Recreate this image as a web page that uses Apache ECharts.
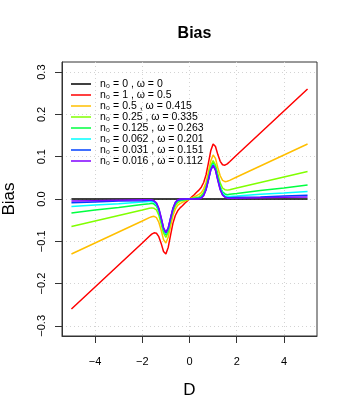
<!DOCTYPE html>
<html>
<head>
<meta charset="utf-8">
<script src="https://cdn.jsdelivr.net/npm/echarts@6/dist/echarts.min.js"></script>
<style>
html,body{margin:0;padding:0;background:#fff;}
#c{width:349px;height:415px;}
</style>
</head>
<body>
<div id="c"></div>
<script>
// ---- data ----
var D = [-5,-4,-3,-2,-1.7,-1.6,-1.5,-1.4,-1.3,-1.2,-1.1,-1,-0.9,-0.8,-0.7,-0.6,-0.5,-0.4,-0.3,-0.2,-0.1,
         0,0.1,0.2,0.3,0.4,0.5,0.6,0.7,0.8,0.9,1,1.1,1.2,1.3,1.4,1.5,1.6,1.7,2,3,4,5];

var seriesNames = [
  "n₀ = 0 , ω = 0",
  "n₀ = 1 , ω = 0.5",
  "n₀ = 0.5 , ω = 0.415",
  "n₀ = 0.25 , ω = 0.335",
  "n₀ = 0.125 , ω = 0.263",
  "n₀ = 0.062 , ω = 0.201",
  "n₀ = 0.031 , ω = 0.151",
  "n₀ = 0.016 , ω = 0.112"
];
var seriesColors = ["#000000","#FF0000","#FFBF00","#80FF00","#00FF40","#00FFFF","#0040FF","#8000FF"];

var biasN0_0 = [0,0,0,0,0,0,0,0,0,0,0,0,0,0,0,0,0,0,0,0,0,
                0,0,0,0,0,0,0,0,0,0,0,0,0,0,0,0,0,0,0,0,0,0];
var biasN0_1 = [-0.260,-0.208,-0.156,-0.104,-0.088,-0.083,-0.080,-0.081,-0.089,-0.105,-0.124,-0.130,-0.114,-0.085,-0.057,-0.039,-0.028,-0.021,-0.016,-0.010,-0.005,
                0,0.005,0.010,0.016,0.021,0.028,0.039,0.057,0.085,0.114,0.130,0.124,0.105,0.089,0.081,0.080,0.083,0.088,0.104,0.156,0.208,0.260];
var biasN0_05 = [-0.130,-0.104,-0.078,-0.052,-0.044,-0.042,-0.041,-0.044,-0.055,-0.074,-0.096,-0.104,-0.090,-0.064,-0.039,-0.024,-0.015,-0.011,-0.008,-0.005,-0.003,
                 0,0.003,0.005,0.008,0.011,0.015,0.024,0.039,0.064,0.090,0.104,0.096,0.074,0.055,0.044,0.041,0.042,0.044,0.052,0.078,0.104,0.130];
var biasN0_025 = [-0.065,-0.052,-0.039,-0.026,-0.022,-0.021,-0.022,-0.026,-0.038,-0.059,-0.081,-0.091,-0.079,-0.053,-0.030,-0.016,-0.009,-0.005,-0.004,-0.003,-0.001,
                  0,0.001,0.003,0.004,0.005,0.009,0.016,0.030,0.053,0.079,0.091,0.081,0.059,0.038,0.026,0.022,0.021,0.022,0.026,0.039,0.052,0.065];
var biasN0_0125 = [-0.033,-0.026,-0.020,-0.013,-0.011,-0.010,-0.012,-0.017,-0.029,-0.051,-0.074,-0.085,-0.073,-0.048,-0.026,-0.012,-0.005,-0.003,-0.002,-0.001,-0.001,
                   0,0.001,0.001,0.002,0.003,0.005,0.012,0.026,0.048,0.073,0.085,0.074,0.051,0.029,0.017,0.012,0.010,0.011,0.013,0.020,0.026,0.033];
var biasN0_0062 = [-0.018,-0.014,-0.011,-0.007,-0.006,-0.006,-0.007,-0.013,-0.026,-0.047,-0.071,-0.082,-0.070,-0.046,-0.023,-0.010,-0.004,-0.001,-0.001,-0.001,0,
                   0,0,0.001,0.001,0.001,0.004,0.010,0.023,0.046,0.070,0.082,0.071,0.047,0.026,0.013,0.007,0.006,0.006,0.007,0.011,0.014,0.018];
var biasN0_0031 = [-0.009,-0.007,-0.005,-0.004,-0.003,-0.003,-0.005,-0.010,-0.023,-0.045,-0.069,-0.080,-0.069,-0.045,-0.022,-0.009,-0.003,-0.001,-0.001,0,0,
                   0,0,0,0.001,0.001,0.003,0.009,0.022,0.045,0.069,0.080,0.069,0.045,0.023,0.010,0.005,0.003,0.003,0.004,0.005,0.007,0.009];
var biasN0_0016 = [-0.005,-0.004,-0.003,-0.002,-0.002,-0.002,-0.004,-0.009,-0.022,-0.044,-0.068,-0.079,-0.068,-0.044,-0.022,-0.008,-0.002,0,0,0,0,
                   0,0,0,0,0,0.002,0.008,0.022,0.044,0.068,0.079,0.068,0.044,0.022,0.009,0.004,0.002,0.002,0.002,0.003,0.004,0.005];

var xTicks = [-4,-2,0,2,4];
var yTicks = [-0.3,-0.2,-0.1,0,0.1,0.2,0.3];
// ---------------------------------------

var allBias = [biasN0_0,biasN0_1,biasN0_05,biasN0_025,biasN0_0125,biasN0_0062,biasN0_0031,biasN0_0016];

function fmtMinus(s){ return String(s).replace('-', '\u2212'); }

var series = allBias.map(function(arr, i){
  return {
    name: seriesNames[i],
    type: 'line',
    data: D.map(function(d, j){ return [d, arr[j]]; }),
    symbol: 'none',
    smooth: false,
    lineStyle: {color: seriesColors[i], width: 1.5},
    itemStyle: {color: seriesColors[i]},
    animation: false,
    z: 2 + i
  };
});

var chart = echarts.init(document.getElementById('c'), null, {renderer: 'canvas'});
chart.setOption({
  animation: false,
  backgroundColor: '#fff',
  title: {
    text: 'Bias',
    left: 189.5, textAlign: 'center',
    top: 21,
    textStyle: {fontFamily: 'Liberation Sans', fontWeight: 'bold', fontSize: 16, color: '#000'}
  },
  grid: {
    left: 62, right: 32, top: 62, bottom: 79,
    outerBoundsMode: 'none', containLabel: false,
    show: true, borderColor: '#333', borderWidth: 1, backgroundColor: 'transparent'
  },
  legend: {
    orient: 'vertical',
    left: 66, top: 73.5,
    icon: 'rect',
    itemWidth: 20, itemHeight: 1.5, itemGap: 0,
    data: seriesNames,
    textStyle: {fontFamily: 'Liberation Sans', fontSize: 10.5, color: '#000', lineHeight: 10.9, padding: [0,0,0,4]},
    selectedMode: false
  },
  xAxis: {
    type: 'value',
    min: -5.4, max: 5.4,
    name: 'D', nameLocation: 'middle', nameGap: 46,
    nameTextStyle: {fontFamily: 'Liberation Sans', fontSize: 17, color: '#000'},
    axisLine: {show: true, onZero: false, lineStyle: {color: '#333', width: 1}},
    axisTick: {show: true, customValues: xTicks, length: 7, lineStyle: {color: '#333'}},
    axisLabel: {customValues: xTicks, margin: 20, fontFamily: 'Liberation Sans', fontSize: 11, color: '#000',
                formatter: function(v){ return fmtMinus(v); }},
    splitLine: {show: true, lineStyle: {color: '#d3d3d3', type: [1,3], width: 1}}
  },
  yAxis: {
    type: 'value',
    min: -0.324, max: 0.324,
    name: 'Bias', nameLocation: 'middle', nameGap: 44,
    nameTextStyle: {fontFamily: 'Liberation Sans', fontSize: 17, color: '#000'},
    axisLine: {show: true, onZero: false, lineStyle: {color: '#333', width: 1}},
    axisTick: {show: true, customValues: yTicks, length: 7, lineStyle: {color: '#333'}},
    axisLabel: {customValues: yTicks, rotate: 90, margin: 14.5, fontFamily: 'Liberation Sans', fontSize: 11, color: '#000',
                formatter: function(v){ return fmtMinus(v.toFixed(1)); }},
    splitLine: {show: true, lineStyle: {color: '#d3d3d3', type: [1,3], width: 1}}
  },
  series: series
});
</script>
</body>
</html>
